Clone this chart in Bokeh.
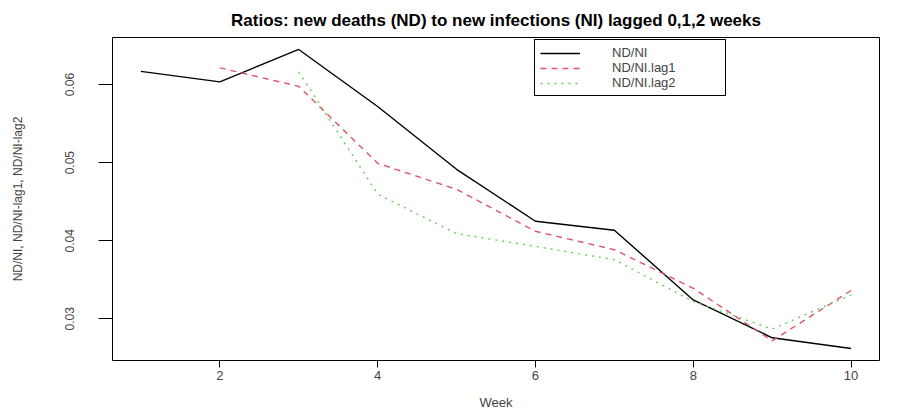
from bokeh.plotting import figure
from bokeh.models import Range1d, FixedTicker, Legend, LegendItem
from bokeh.embed import file_html
from bokeh.resources import INLINE

weeks = [1, 2, 3, 4, 5, 6, 7, 8, 9, 10]
nd_ni = [0.0617, 0.06035, 0.0645, 0.0572, 0.04915, 0.0425, 0.04134, 0.03242, 0.02757, 0.02619]
weeks_lag1 = [2, 3, 4, 5, 6, 7, 8, 9, 10]
nd_ni_lag1 = [0.06215, 0.05978, 0.04992, 0.04658, 0.04121, 0.03885, 0.03391, 0.02718, 0.03362]
weeks_lag2 = [3, 4, 5, 6, 7, 8, 9, 10]
nd_ni_lag2 = [0.06163, 0.04597, 0.04091, 0.03928, 0.03757, 0.03222, 0.02868, 0.03306]
x_ticks = [2, 4, 6, 8, 10]
y_ticks = [0.03, 0.04, 0.05, 0.06]
labels = ["ND/NI", "ND/NI.lag1", "ND/NI.lag2"]

FONT = "Liberation Sans"

# R-style 4% range extension
all_y = nd_ni + nd_ni_lag1 + nd_ni_lag2
ymin, ymax = min(all_y), max(all_y)
ypad = (ymax - ymin) * 0.04
xmin, xmax = min(weeks), max(weeks)
xpad = (xmax - xmin) * 0.04

p = figure(width=901, height=413, output_backend="svg", toolbar_location=None,
           x_range=Range1d(xmin - xpad, xmax + xpad),
           y_range=Range1d(ymin - ypad, ymax + ypad),
           min_border_left=112, min_border_right=22, min_border_top=37, min_border_bottom=53,
           background_fill_color="white", border_fill_color="white")

p.title.text = "Ratios: new deaths (ND) to new infections (NI) lagged 0,1,2 weeks"
p.title.align = "center"
p.title.text_font = FONT
p.title.text_font_size = "17px"
p.title.text_font_style = "bold"
p.title.text_color = "black"
p.title.standoff = 15

p.xgrid.visible = False
p.ygrid.visible = False
p.outline_line_color = "black"
p.outline_line_width = 1
p.outline_line_alpha = 1

r0 = p.line(weeks, nd_ni, line_color="black", line_width=1.4)
r1 = p.line(weeks_lag1, nd_ni_lag1, line_color="#DF536B", line_width=1.4, line_dash="6 5")
r2 = p.line(weeks_lag2, nd_ni_lag2, line_color="#61D04F", line_width=1.4, line_dash="2 5")

xa = p.xaxis[0]
xa.ticker = FixedTicker(ticks=x_ticks)
xa.axis_label = "Week"
xa.axis_line_color = None
xa.major_tick_out = 7
xa.major_tick_in = 0
xa.minor_tick_out = 0
xa.minor_tick_in = 0
xa.major_tick_line_color = "black"
xa.major_label_text_font = FONT
xa.major_label_text_font_size = "13px"
xa.major_label_standoff = 3
xa.axis_label_text_font = FONT
xa.axis_label_text_font_size = "13px"
xa.axis_label_text_font_style = "normal"
xa.axis_label_standoff = 12

ya = p.yaxis[0]
ya.ticker = FixedTicker(ticks=y_ticks)
ya.axis_label = "ND/NI, ND/NI-lag1, ND/NI-lag2"
ya.axis_line_color = None
ya.major_tick_out = 14
ya.major_tick_in = 0
ya.minor_tick_out = 0
ya.minor_tick_in = 0
ya.major_tick_line_color = "black"
ya.major_label_orientation = "vertical"
ya.major_label_text_font = FONT
ya.major_label_text_font_size = "12px"
ya.major_label_standoff = 24
ya.axis_label_text_font = FONT
ya.axis_label_text_font_size = "12px"
ya.axis_label_text_font_style = "normal"
ya.axis_label_standoff = 38

legend = Legend(items=[LegendItem(label=labels[0], renderers=[r0]),
                       LegendItem(label=labels[1], renderers=[r1]),
                       LegendItem(label=labels[2], renderers=[r2])],
                location=(422, 264))
legend.border_line_color = "black"
legend.border_line_width = 1
legend.border_line_alpha = 1
legend.background_fill_color = "white"
legend.background_fill_alpha = 1
legend.label_text_font = FONT
legend.label_text_font_size = "13px"
legend.glyph_width = 40
legend.glyph_height = 12
legend.label_height = 12
legend.label_standoff = 32
legend.spacing = 0
legend.padding = 5
legend.margin = 0
legend.label_width = 108
p.add_layout(legend, "center")

open("out.html", "w").write(file_html(p, INLINE))
